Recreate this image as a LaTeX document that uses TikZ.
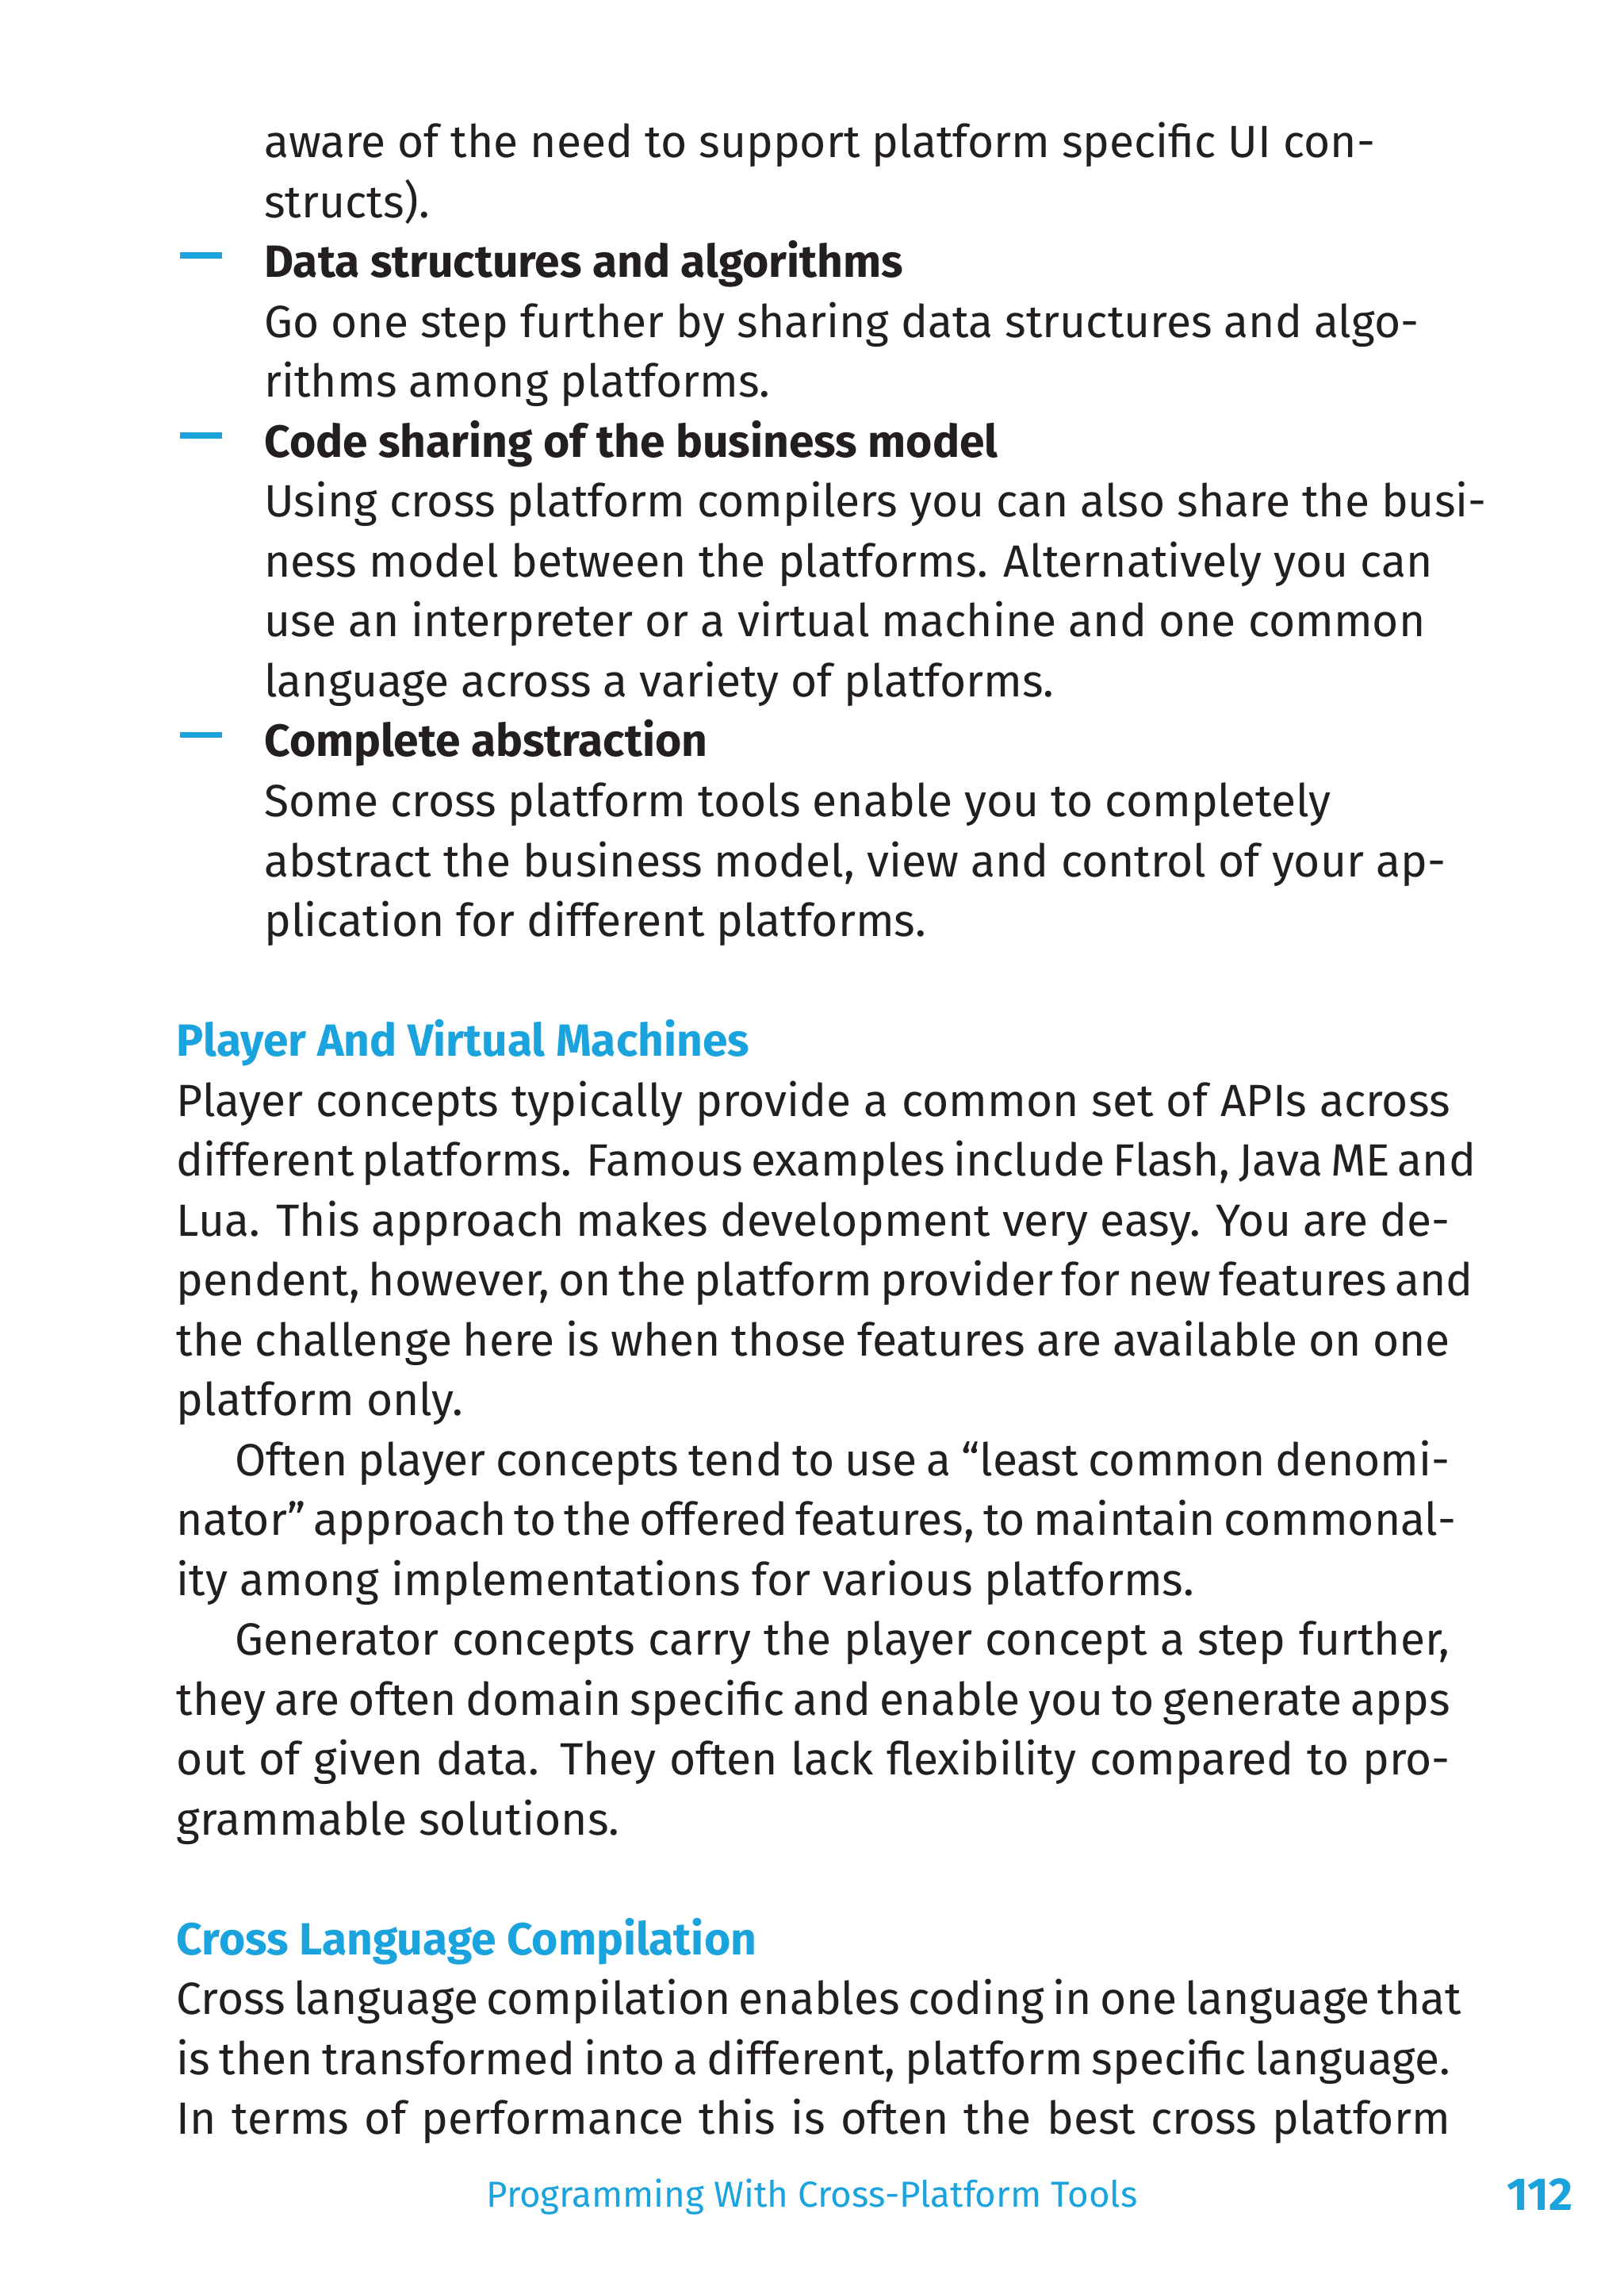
\documentclass[tikz,border=0pt]{standalone}
\usepackage{fontspec}
\setmainfont{Fira Sans}
\definecolor{cblue}{HTML}{1AA3DC}
\definecolor{ctext}{HTML}{231F20}
\begin{document}
\begin{tikzpicture}[x=0.018417cm,y=-0.018417cm,
  every node/.style={inner sep=0,outer sep=0,anchor=base west,text=ctext,font=\fontsize{16.2}{20}\selectfont},
  head/.style={text=cblue,font=\fontsize{16.2}{20}\selectfont\bfseries},
  bold/.style={font=\fontsize{16.2}{20}\selectfont\bfseries}]
\useasboundingbox (0,0) rectangle (1112,1567.6);
\fill[white] (0,0) rectangle (1112,1567.6);
\newcommand\JL[3]{\node at (#1,#2) {\makebox[16.06cm][s]{#3}};}
\newcommand\RL[3]{\node at (#1,#2) {#3};}
\newcommand\dash[2]{\draw[cblue,line width=2.2pt] (123,#2) -- (152,#2) node[pos=0] (#1) {};}
% bullets section
\RL{181}{108}{aware of the need to support platform specific UI con-}
\RL{181}{149}{structs).}
\dash{d1}{175}
\node[bold] at (181,190) {Data structures and algorithms};
\RL{181}{231}{Go one step further by sharing data structures and algo-}
\RL{181}{272}{rithms among platforms.}
\dash{d2}{298}
\node[bold] at (181,313) {Code sharing of the business model};
\RL{181}{354}{Using cross platform compilers you can also share the busi-}
\RL{181}{395}{ness model between the platforms. Alternatively you can}
\RL{181}{436}{use an interpreter or a virtual machine and one common}
\RL{181}{477}{language across a variety of platforms.}
\dash{d3}{503}
\node[bold] at (181,518) {Complete abstraction};
\RL{181}{559}{Some cross platform tools enable you to completely}
\RL{181}{600}{abstract the business model, view and control of your ap-}
\RL{181}{641}{plication for different platforms.}
% section 2
\node[head] at (121,723) {Player And Virtual Machines};
\JL{121}{764}{Player concepts typically provide a common set of APIs across}
\JL{121}{805}{different platforms. Famous examples include Flash, Java ME and}
\JL{121}{846}{Lua. This approach makes development very easy. You are de-}
\JL{121}{887}{pendent, however, on the platform provider for new features and}
\JL{121}{928}{the challenge here is when those features are available on one}
\RL{121}{969}{platform only.}
\node at (161,1010) {\makebox[15.32cm][s]{Often player concepts tend to use a “least common denomi-}};
\JL{121}{1051}{nator” approach to the offered features, to maintain commonal-}
\RL{121}{1092}{ity among implementations for various platforms.}
\node at (161,1133) {\makebox[15.32cm][s]{Generator concepts carry the player concept a step further,}};
\JL{121}{1174}{they are often domain specific and enable you to generate apps}
\JL{121}{1215}{out of given data. They often lack flexibility compared to pro-}
\RL{121}{1256}{grammable solutions.}
% section 3
\node[head] at (121,1338) {Cross Language Compilation};
\JL{121}{1379}{Cross language compilation enables coding in one language that}
\JL{121}{1420}{is then transformed into a different, platform specific language.}
\JL{121}{1461}{In terms of performance this is often the best cross platform}
% footer
\node[anchor=base,text=cblue,font=\fontsize{13}{16}\selectfont] (foot) at (556,1511) {Programming With Cross-Platform Tools};
\node[anchor=base east,text=cblue,font=\fontsize{16.5}{20}\selectfont\bfseries] (pg) at (1077,1513) {112};
\end{tikzpicture}
\end{document}
